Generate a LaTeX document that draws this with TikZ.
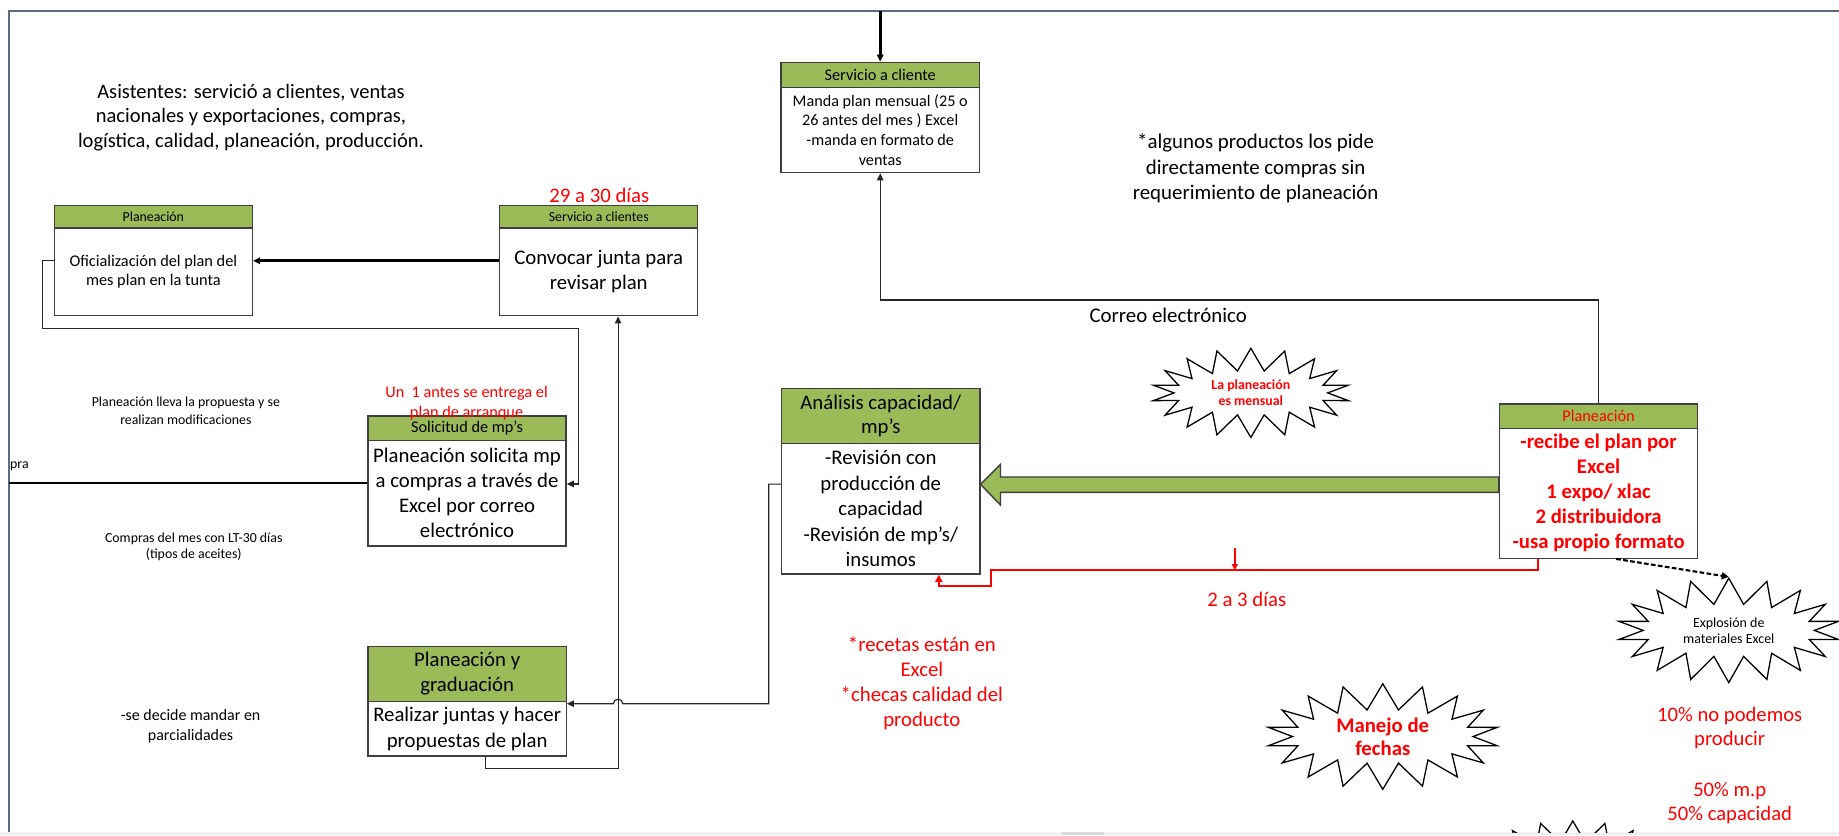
\documentclass[tikz,border=0pt]{standalone}
\usepackage{fontspec}
\setmainfont{Carlito}
\usetikzlibrary{arrows.meta,shapes.symbols,calc}
\definecolor{hdrgreen}{HTML}{9BBB59}
\definecolor{edgegrey}{HTML}{3F3F3F}
\definecolor{framegrey}{HTML}{5B6B80}
\definecolor{alertred}{HTML}{FF0000}
\definecolor{stripgrey}{HTML}{EFEFEF}
\definecolor{thumbgrey}{HTML}{D9D9D9}

\begin{document}
\begin{tikzpicture}[x=1pt,y=-1pt,
  boxframe/.style={draw=edgegrey, line width=1.1pt, fill=white, rectangle, inner sep=0pt, minimum width=169pt},
  headbar/.style={draw=edgegrey, line width=1.1pt, fill=hdrgreen, rectangle, inner sep=0pt, minimum width=169pt, anchor=north},
  txt/.style={inner sep=0pt, align=center, text=black},
  fS/.style={font=\fontsize{11.8}{14.6}\selectfont},
  fM/.style={font=\fontsize{13.9}{16.9}\selectfont},
  fL/.style={font=\fontsize{17.7}{21.4}\selectfont},
  fLB/.style={font=\fontsize{17.7}{21.3}\selectfont\bfseries},
  tipA/.style={-{Triangle[length=6pt,width=5.5pt]}},
  thinconn/.style={draw=black!85, line width=1pt},
  thickconn/.style={draw=black, line width=2.2pt},
  redconn/.style={draw=alertred, line width=1.9pt},
  dashconn/.style={draw=black, line width=1.8pt, dash pattern=on 4pt off 2pt},
  burst/.style={starburst, starburst points=18, starburst point height=21pt, random starburst=0, draw=black, line width=1.1pt, fill=white, inner sep=0pt, align=center},
]
\useasboundingbox (0,0) rectangle (1568,712);
\fill[white] (0,0) rectangle (1568,712);
% window strip and frame
\fill[stripgrey] (0,709.4) rectangle (1568,712);
\fill[thumbgrey] (905.6,709.4) rectangle (941.4,712);
\draw[framegrey, line width=1.4pt] (1568,9.4) -- (7.4,9.4) -- (7.4,709.4);

% ---------- process boxes ----------
% Planeacion (left)
\node[boxframe, minimum height=93.8pt] (b1) at (130.75,222.35) {};
\node[headbar, minimum height=19pt] (b1h) at (b1.north) {};
\node[txt, fS] at (b1h) {Planeación};
\node[txt, fM] at (130.75,231.6) {Oficialización del plan del\\mes plan en la tunta};

% Servicio a clientes
\node[boxframe, minimum height=93.8pt] (b2) at (510.5,222.35) {};
\node[headbar, minimum height=19pt] (b2h) at (b2.north) {};
\node[txt, fS] at (b2h) {Servicio a clientes};
\node[txt, font=\fontsize{17.7}{20.5}\selectfont] at (510.5,231.5) {Convocar junta para\\revisar plan};
\node[txt, fL, text=alertred] at (511,167) {29 a 30 días};

% Servicio a cliente (top)
\node[boxframe, minimum height=94.1pt] (b6) at (750.5,100.15) {};
\node[headbar, minimum height=21.4pt] (b6h) at (b6.north) {};
\node[txt, fM] at (b6h) {Servicio a cliente};
\node[txt, font=\fontsize{13.8}{16.8}\selectfont] at (750.5,110.6) {Manda plan mensual (25 o\\26 antes del mes ) Excel\\-manda en formato de\\ventas};

% Solicitud de mp's
\node[boxframe, minimum height=110.9pt] (b3) at (398.2,410.15) {};
\node[headbar, minimum height=21.1pt] (b3h) at (b3.north) {};
\node[txt, fM] at (b3h) {Solicitud de mp’s};
\node[txt, font=\fontsize{17.7}{21.5}\selectfont] at (398.2,420.3) {Planeación solicita mp\\a compras a través de\\Excel por correo\\electrónico};

% Planeacion y graduacion
\node[boxframe, minimum height=93.6pt] (b4) at (398.3,597.8) {};
\node[headbar, minimum height=47pt] (b4h) at (b4.north) {};
\node[txt, fL] at (b4h) {Planeación y\\graduación};
\node[txt, font=\fontsize{17.7}{22.2}\selectfont] at (398.3,621.6) {Realizar juntas y hacer\\propuestas de plan};

% Analisis capacidad
\node[boxframe, minimum height=158.5pt] (b5) at (751,410.25) {};
\node[headbar, minimum height=47pt] (b5h) at (b5.north) {};
\node[txt, font=\fontsize{17.7}{20.5}\selectfont] at (b5h) {Análisis capacidad/\\mp’s};
\node[txt, font=\fontsize{17.7}{21.7}\selectfont] at (751,433.6) {-Revisión con\\producción de\\capacidad\\-Revisión de mp’s/\\insumos};

% Planeacion (right)
\node[boxframe, minimum height=131.5pt] (b7) at (1363,410.25) {};
\node[headbar, minimum height=21pt] (b7h) at (b7.north) {};
\node[txt, fM, text=alertred] at (b7h) {Planeación};
\node[txt, fLB, text=alertred] at (1363,420.6) {-recibe el plan por\\Excel\\1 expo/ xlac\\2 distribuidora\\-usa propio formato};

% ---------- starbursts ----------
\node[burst, minimum width=169pt, minimum height=76pt, starburst point height=19pt,
      font=\fontsize{11.8}{13.6}\selectfont\bfseries, text=alertred] (bst1) at (1066.5,335)
  {La planeación\\es mensual};
\node[burst, minimum width=198pt, minimum height=88pt, starburst point height=22pt,
      font=\fontsize{17.7}{20}\selectfont\bfseries, text=alertred] (bst2) at (1179,628)
  {Manejo de\\fechas};
\node[burst, minimum width=190pt, minimum height=89pt, starburst point height=22pt,
      font=\fontsize{11.9}{13.5}\selectfont] (bst3) at (1474,537.5)
  {Explosión de\\materiales Excel};
\begin{scope}
  \clip (0,0) rectangle (1568,709.4);
  \node[burst, minimum width=160pt, minimum height=70pt, starburst point height=18pt] (bst4) at (1341,735) {};
\end{scope}

% ---------- free texts ----------
\node[txt, font=\fontsize{17.5}{21.3}\selectfont] at (214,100.3) {Asistentes: servició a clientes, ventas\\nacionales y exportaciones, compras,\\logística, calidad, planeación, producción.};
\node[txt, font=\fontsize{17.8}{21.8}\selectfont] at (1070.6,143.5) {*algunos productos los pide\\directamente compras sin\\requerimiento de planeación};
\node[txt, font=\fontsize{17.8}{21}\selectfont] at (996,268.6) {Correo electrónico};
\node[txt, font=\fontsize{11.8}{14.8}\selectfont] at (158.5,350.2) {Planeación lleva la propuesta y se\\realizan modificaciones};
\node[txt, fS, anchor=west] at (8.5,397.3) {pra};
\node[txt, font=\fontsize{11.8}{13.8}\selectfont] at (165.2,466.4) {Compras del mes con LT-30 días\\(tipos de aceites)};
\node[txt, font=\fontsize{13.6}{16.6}\selectfont] at (162.5,619.3) {-se decide mandar en\\parcialidades};
\node[txt, font=\fontsize{17.7}{21.3}\selectfont, text=alertred] at (786,582.8) {*recetas están en\\Excel\\*checas calidad del\\producto};
\node[txt, fL, text=alertred] at (1063,511) {2 a 3 días};
\node[txt, font=\fontsize{17.6}{20.8}\selectfont, text=alertred] at (1474.8,620.6) {10\% no podemos\\producir};
\node[txt, font=\fontsize{17.6}{20.8}\selectfont, text=alertred] at (1474.8,684.6) {50\% m.p\\50\% capacidad};

% ---------- connectors ----------
\coordinate (topin) at (750.5,9.4);
\draw[thickconn, tipA] (topin) -- (b6.north);

\draw[thickconn, tipA] (b2.west) -- (b1.east);

\coordinate (k1) at (36,280);
\coordinate (k2) at (493,280);
\draw[thinconn, tipA] (b1.west) -| (k1) -- (k2) |- ([yshift=-2.5pt]b3.east);

\coordinate (fl) at (7.4,411.65);
\draw[thickconn] ([yshift=-1.5pt]b3.west) -- (fl);

\coordinate (k3) at (414,655);
\draw[thinconn, tipA] ([xshift=15.7pt]b4.south) -- (k3) -| ([xshift=16.5pt]b2.south);

\coordinate (k4) at (655.5,412.75);
\coordinate (k5) at (655.5,600);
\coordinate (h1) at (531,600);
\coordinate (h2) at (523,600);
\draw[thinconn, tipA] ([yshift=-2.5pt]b5.west) -- (k4) -- (k5) -- (h1)
  .. controls (531,595) and (523,595) .. (h2) -- ([yshift=-2.2pt]b4.east);

\coordinate (k6) at (1000,255.8);
\draw[thinconn, tipA] (b7.north) |- (k6) -| (b6.south);

% wide green arrow from the right planning box to the capacity analysis
\coordinate (gt) at ([yshift=-2.75pt]b5.east);
\draw[fill=hdrgreen, draw=edgegrey, line width=1.2pt, line join=miter]
  (gt) -- ++(17,-17) -- ++(0,10.7) -- ($(b7.west)+(0,-3.55)$) -- ($(b7.west)+(0,9.55)$)
  -- ($(gt)+(17,6.8)$) -- ++(0,10.8) -- cycle;

\coordinate (r1) at (845,486);
\coordinate (r2) at (845,499.4);
\draw[redconn, -{Triangle[length=6pt,width=6pt]}] ([xshift=-51.6pt]b7.south) |- (r1) -- (r2) -| ([xshift=49.5pt]b5.south);

\coordinate (rdA) at (1052.8,467.5);
\coordinate (rdB) at (1052.8,486);
\draw[draw=alertred, line width=1.3pt, -{Triangle[length=5pt,width=5pt]}] (rdA) -- (rdB);

\draw[dashconn, -{Triangle[length=6pt,width=6pt]}] ([xshift=15pt]b7.south) -- (bst3.north);

% red note drawn over the box edge
\node[txt, font=\fontsize{13.9}{17}\selectfont, text=alertred] at (397.8,343.9) {Un\ \ 1 antes se entrega el\\plan de arranque};
\end{tikzpicture}
\end{document}
